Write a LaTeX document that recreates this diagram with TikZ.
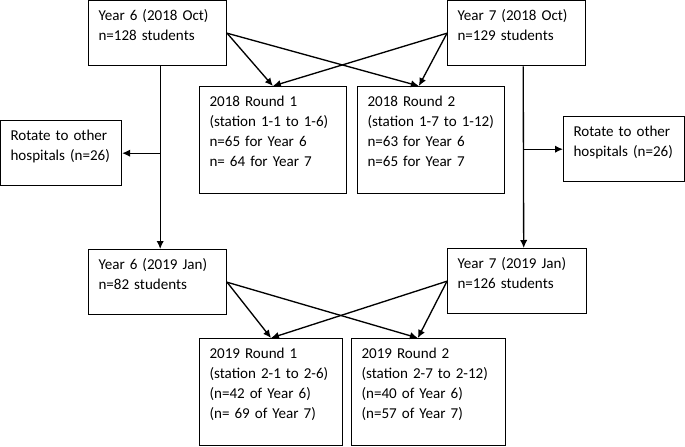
\documentclass[tikz,border=0pt]{standalone}
\usepackage{fontspec}
\setmainfont{Carlito}
\usepackage{tikz}
\usetikzlibrary{arrows.meta}

\begin{document}
\begin{tikzpicture}[x=0.75pt, y=-0.75pt,
  >={Latex[length=6pt,width=5.5pt]},
  box/.style={draw, line width=0.8pt, anchor=north west, align=left,
              font=\fontsize{11.3}{15}\selectfont, inner xsep=7.5pt, inner ysep=0pt,
              text height=15pt},
  two/.style={box, text depth=34pt},
  four/.style={box, text depth=65pt},
  link/.style={->, line width=1pt}]
  \useasboundingbox (0,0) rectangle (685,446);
  \node[two, text width=88.5pt] (y6oct) at (88,0) {Year 6 (2018 Oct)\\n=128 students};
  \node[two, text width=88.5pt] (y7oct) at (447,0) {Year 7 (2018 Oct)\\n=129 students};
  \node[four, text width=95pt] (r1a) at (199,86) {2018 Round 1\\(station 1-1 to 1-6)\\n=65 for Year 6\\n= 64 for Year 7};
  \node[four, text width=95pt] (r2a) at (357,86) {2018 Round 2\\(station 1-7 to 1-12)\\n=63 for Year 6\\n=65 for Year 7};
  \node[two, text width=75.75pt] (rotl) at (0,120) {Rotate to other\\hospitals (n=26)};
  \node[two, text width=75.75pt] (rotr) at (563,116) {Rotate to other\\hospitals (n=26)};
  \node[two, text width=88.5pt] (y6jan) at (88,249) {Year 6 (2019 Jan)\\n=82 students};
  \node[two, text width=89.25pt] (y7jan) at (447,248) {Year 7 (2019 Jan)\\n=126 students};
  \node[four, text width=92.25pt] (r1b) at (199,338) {2019 Round 1\\(station 2-1 to 2-6)\\(n=42 of Year 6)\\(n= 69 of Year 7)};
  \node[four, text width=100.5pt] (r2b) at (351,338) {2019 Round 2\\(station 2-7 to 2-12)\\(n=40 of Year 6)\\(n=57 of Year 7)};
  % 2018 rounds
  \draw[link] (y6oct.east) -- (r1a.north);
  \draw[link] (y6oct.east) -- ([xshift=-9pt]r2a.north);
  \draw[link] (y7oct.west) -- (r1a.north);
  \draw[link] (y7oct.west) -- ([xshift=-9pt]r2a.north);
  % on to January
  \draw[link] ([xshift=2pt]y6oct.south) -- ([xshift=2pt]y6jan.north);
  \draw[link] ([xshift=2pt]y6oct.south |- rotl.east) -- (rotl.east);
  \draw[link] ([xshift=5pt]y7oct.south) -- ([xshift=5pt]y7jan.north);
  \draw[link] ([xshift=5pt]y7oct.south |- rotr.west) -- (rotr.west);
  % 2019 rounds
  \draw[link] (y6jan.east) -- (r1b.north);
  \draw[link] (y6jan.east) -- ([xshift=-8pt]r2b.north);
  \draw[link] (y7jan.west) -- (r1b.north);
  \draw[link] (y7jan.west) -- ([xshift=-8pt]r2b.north);
\end{tikzpicture}
\end{document}
